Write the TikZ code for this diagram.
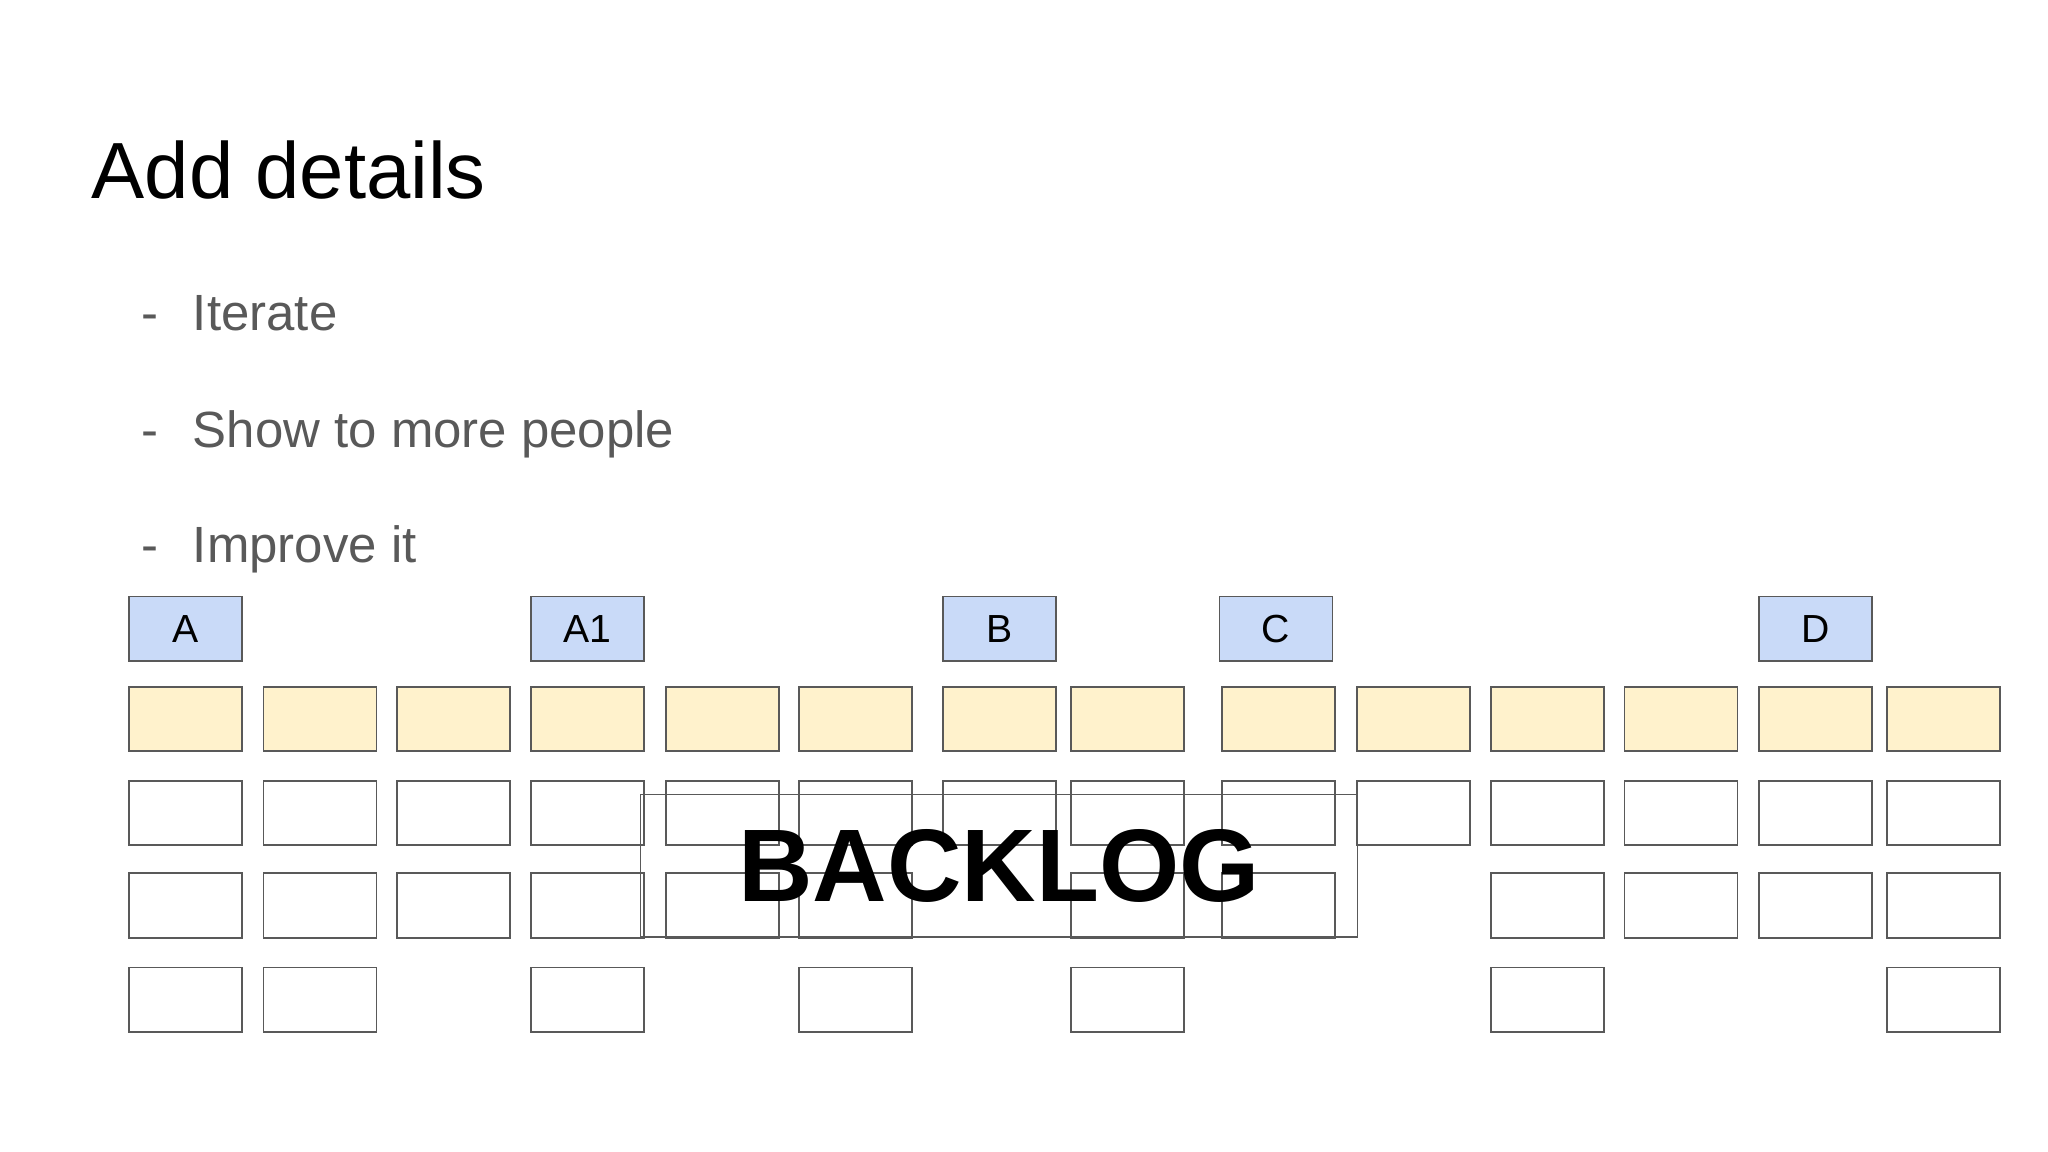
\documentclass[tikz,border=0pt]{standalone}
\usepackage{fontspec}
\setmainfont{Liberation Sans}

\definecolor{milestone}{HTML}{C9DAF8}
\definecolor{story}{HTML}{FFF2CC}
\definecolor{cardline}{HTML}{595959}
\definecolor{itemgray}{HTML}{595959}

\tikzset{
  card/.style={draw=cardline, line width=1.4pt, minimum width=86.5pt,
    minimum height=49.5pt, inner sep=0pt, anchor=north west},
  milestonecard/.style={card, fill=milestone, font=\fontsize{30}{36}\selectfont},
  storycard/.style={card, fill=story},
  taskcard/.style={card},
  backlogbox/.style={draw=cardline, line width=1pt, minimum width=549pt,
    minimum height=109pt, inner sep=0pt, anchor=north west,
    font=\fontsize{79}{90}\selectfont\bfseries},
  itemdash/.style={anchor=base west, inner sep=0pt, text=itemgray,
    font=\fontsize{39}{46}\selectfont},
  itemtext/.style={itemdash}
}

\begin{document}
\begin{tikzpicture}[x=1pt, y=-1pt]
  \fill[white] (0,0) rectangle (1568,882);
  \useasboundingbox (0,0) rectangle (1568,882);

  % heading and list
  \node[anchor=base west, inner sep=0pt, font=\fontsize{61}{70}\selectfont]
    (title) at (70,152) {Add details};
  \foreach \i/\y/\t in {1/253/Iterate, 2/343/Show to more people, 3/431/Improve it} {
    \node[itemdash] (dash\i) at (108,\y) {-};
    \node[itemtext] (item\i) at (147.5,\y) {\t};
  }

  % milestones
  \foreach \n/\x in {A/98, A1/406, B/721, C/933, D/1346}
    \node[milestonecard] (m\n) at (\x,456) {\n};

  % stories
  \foreach \c/\x in {1/98,2/201,3/303,4/406,5/509,6/611,7/721,8/819,
                     9/935,10/1038,11/1141,12/1243,13/1346,14/1444}
    \node[storycard] (s\c) at (\x,525) {};

  % tasks
  \foreach \c/\x in {1/98,2/201,3/303,4/406,5/509,6/611,7/721,8/819,
                     9/935,10/1038,11/1141,12/1243,13/1346,14/1444}
    \node[taskcard] (t\c) at (\x,597) {};
  \foreach \c/\x in {1/98,2/201,3/303,4/406,5/509,6/611,8/819,
                     9/935,11/1141,12/1243,13/1346,14/1444}
    \node[taskcard] (u\c) at (\x,668) {};
  \foreach \c/\x in {1/98,2/201,4/406,6/611,8/819,11/1141,14/1444}
    \node[taskcard] (v\c) at (\x,740) {};

  \node[backlogbox] (backlog) at (490,608) {BACKLOG};
\end{tikzpicture}
\end{document}
